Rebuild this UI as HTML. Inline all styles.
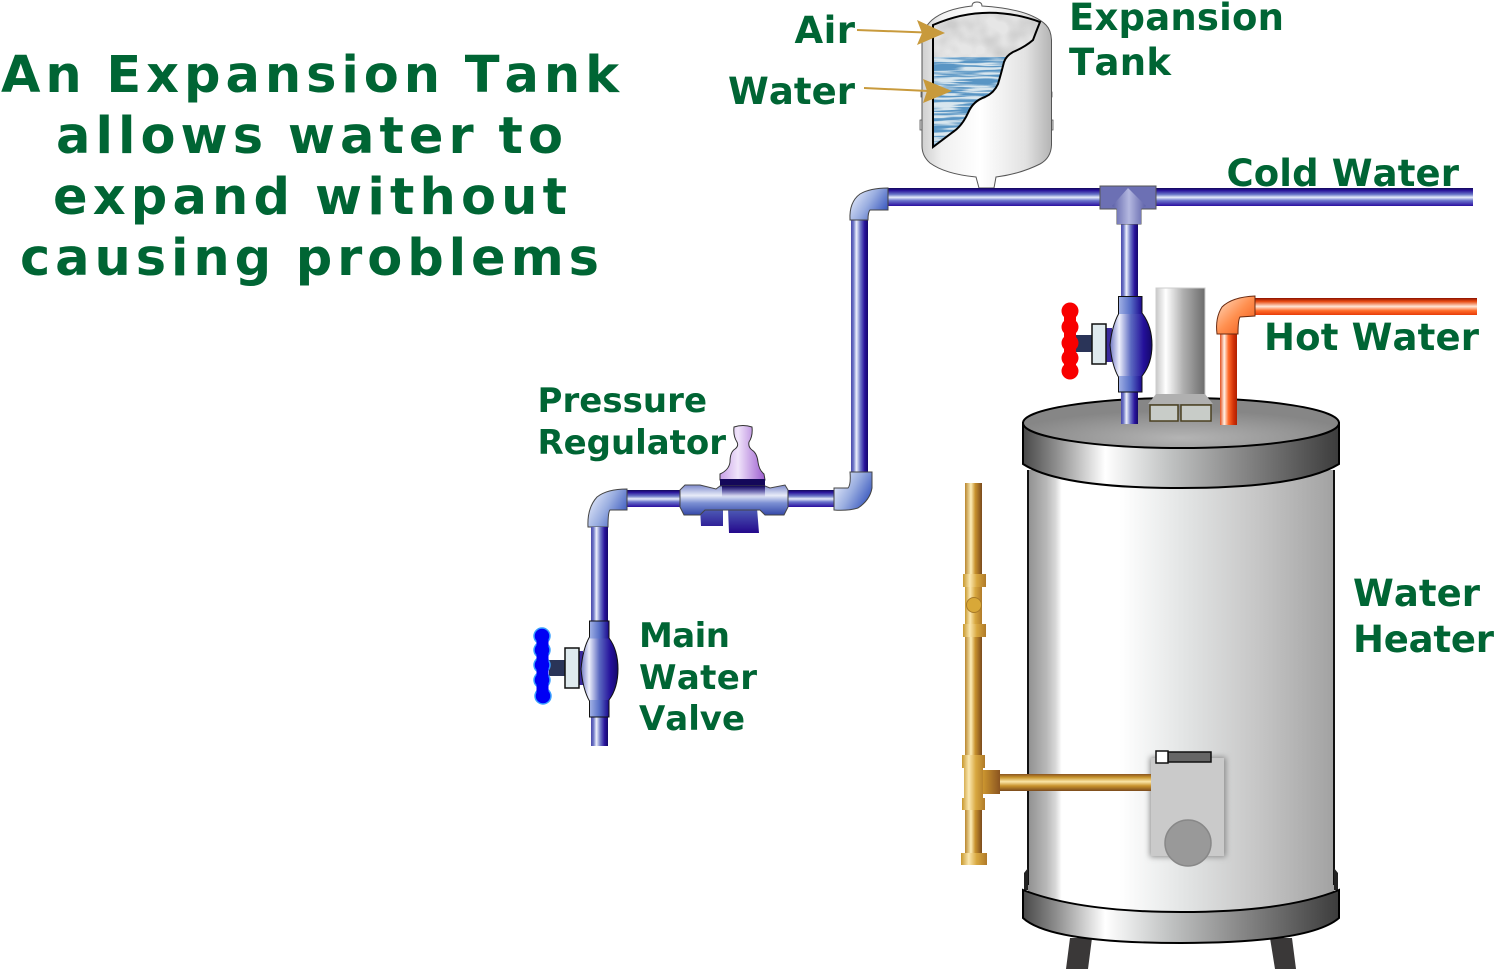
<!DOCTYPE html>
<html><head><meta charset="utf-8"><style>
html,body{margin:0;padding:0;background:#fff}
svg{display:block}
text{font-family:"DejaVu Sans",sans-serif;font-weight:bold;fill:#006534;font-kerning:none}
.t{word-spacing:-3px}
</style></head><body>
<svg width="1494" height="969" viewBox="0 0 1494 969" xmlns="http://www.w3.org/2000/svg">
<defs>
<linearGradient id="bH" x1="0" y1="0" x2="0" y2="1"><stop offset="0" stop-color="#12085a"/><stop offset=".14" stop-color="#2a149c"/><stop offset=".36" stop-color="#6a78c8"/><stop offset=".52" stop-color="#e6ecfa"/><stop offset=".7" stop-color="#6a74cc"/><stop offset="1" stop-color="#2a0ea0"/></linearGradient>
<linearGradient id="bV"><stop offset="0" stop-color="#4a48a8"/><stop offset=".15" stop-color="#6f78c8"/><stop offset=".32" stop-color="#eef2fc"/><stop offset=".55" stop-color="#6f78c8"/><stop offset=".8" stop-color="#2a149c"/><stop offset="1" stop-color="#14086a"/></linearGradient>
<linearGradient id="oH" x1="0" y1="0" x2="0" y2="1"><stop offset="0" stop-color="#8a1000"/><stop offset=".2" stop-color="#e84a10"/><stop offset=".5" stop-color="#ffe8d8"/><stop offset=".75" stop-color="#ff6a28"/><stop offset="1" stop-color="#e83c08"/></linearGradient>
<linearGradient id="oV"><stop offset="0" stop-color="#e05020"/><stop offset=".25" stop-color="#fff0e4"/><stop offset=".5" stop-color="#ff6a28"/><stop offset=".8" stop-color="#d03008"/><stop offset="1" stop-color="#b02000"/></linearGradient>
<linearGradient id="gV"><stop offset="0" stop-color="#b8862e"/><stop offset=".35" stop-color="#fdeeb8"/><stop offset=".6" stop-color="#c8922e"/><stop offset="1" stop-color="#7a4a1c"/></linearGradient>
<linearGradient id="gH" x1="0" y1="0" x2="0" y2="1"><stop offset="0" stop-color="#8a5420"/><stop offset=".2" stop-color="#c8962e"/><stop offset=".45" stop-color="#fbe6a8"/><stop offset=".7" stop-color="#c8922e"/><stop offset="1" stop-color="#7a4a1c"/></linearGradient>
<linearGradient id="gT"><stop offset="0" stop-color="#c8982e"/><stop offset=".3" stop-color="#fbe8b0"/><stop offset=".6" stop-color="#d8a840"/><stop offset="1" stop-color="#b07a28"/></linearGradient>
<linearGradient id="gS"><stop offset="0" stop-color="#d09a30"/><stop offset="1" stop-color="#8a5420"/></linearGradient>
<linearGradient id="body"><stop offset="0" stop-color="#909090"/><stop offset=".06" stop-color="#b8b8b8"/><stop offset=".09" stop-color="#d8d8d8"/><stop offset=".11" stop-color="#fff"/><stop offset=".3" stop-color="#fff"/><stop offset=".5" stop-color="#e4e6e6"/><stop offset=".75" stop-color="#c6c6c6"/><stop offset="1" stop-color="#a2a2a2"/></linearGradient>
<linearGradient id="band"><stop offset="0" stop-color="#484848"/><stop offset=".1" stop-color="#8a8a8a"/><stop offset=".26" stop-color="#fff"/><stop offset=".45" stop-color="#c4c6c6"/><stop offset=".68" stop-color="#8a8a8a"/><stop offset="1" stop-color="#3c3c3c"/></linearGradient>
<radialGradient id="lid" cx=".5" cy=".8" r=".55"><stop offset="0" stop-color="#b4b4b4"/><stop offset="1" stop-color="#868686"/></radialGradient>
<linearGradient id="flue"><stop offset="0" stop-color="#c8c8c8"/><stop offset=".2" stop-color="#fff"/><stop offset=".55" stop-color="#b0b0b0"/><stop offset="1" stop-color="#6c6c6c"/></linearGradient>
<linearGradient id="tank"><stop offset="0" stop-color="#cfcfcf"/><stop offset=".15" stop-color="#f0f0f0"/><stop offset=".45" stop-color="#fff"/><stop offset=".8" stop-color="#e2e2e2"/><stop offset="1" stop-color="#b4b4b4"/></linearGradient>
<linearGradient id="valve"><stop offset="0" stop-color="#7078c4"/><stop offset=".22" stop-color="#eef0fc"/><stop offset=".5" stop-color="#5a68c0"/><stop offset=".8" stop-color="#24109a"/><stop offset="1" stop-color="#14086a"/></linearGradient>
<linearGradient id="valve2"><stop offset="0" stop-color="#a0b0e4"/><stop offset=".5" stop-color="#5870c8"/><stop offset="1" stop-color="#1e0c90"/></linearGradient>
<linearGradient id="elb" x1=".1" y1=".1" x2="1" y2=".6"><stop offset="0" stop-color="#e4eafa"/><stop offset=".5" stop-color="#9aaee0"/><stop offset="1" stop-color="#3e5cc0"/></linearGradient>
<linearGradient id="elbO" x1="0" y1="0" x2="1" y2="1"><stop offset="0" stop-color="#ffe0c8"/><stop offset=".5" stop-color="#ff9050"/><stop offset="1" stop-color="#f05010"/></linearGradient>
<linearGradient id="teeV"><stop offset="0" stop-color="#5c60a8"/><stop offset=".5" stop-color="#b4b8e0"/><stop offset="1" stop-color="#5c60a8"/></linearGradient>
<linearGradient id="regB" x1="0" y1="0" x2="0" y2="1"><stop offset="0" stop-color="#7c88cc"/><stop offset=".35" stop-color="#e8ecf8"/><stop offset=".6" stop-color="#7c90d4"/><stop offset="1" stop-color="#3448a8"/></linearGradient>
<linearGradient id="regL" x1="0" y1="0" x2="0" y2="1"><stop offset="0" stop-color="#5060b8"/><stop offset="1" stop-color="#24088c"/></linearGradient>
<linearGradient id="regT" x1="0" y1="0" x2="0" y2="1"><stop offset="0" stop-color="#14085a"/><stop offset="1" stop-color="#3a2aa0" stop-opacity="0"/></linearGradient>
<linearGradient id="purp"><stop offset="0" stop-color="#c8a0e8"/><stop offset=".4" stop-color="#f0e4fa"/><stop offset="1" stop-color="#9c5cd0"/></linearGradient>
<filter id="bl" x="-20%" y="-20%" width="140%" height="140%"><feGaussianBlur stdDeviation="3"/></filter>
<filter id="wat" x="0" y="0" width="100%" height="100%"><feTurbulence type="fractalNoise" baseFrequency="0.025 0.4" numOctaves="2" seed="4"/><feColorMatrix values="0 0 0 0 0.1  0 0 0 0 0.3  0 0 0 0 0.55  5 0 0 0 -1.9"/></filter>
<filter id="air" x="0" y="0" width="100%" height="100%"><feTurbulence type="fractalNoise" baseFrequency="0.05" numOctaves="2" seed="7"/><feColorMatrix values="0 0 0 0 0.5  0 0 0 0 0.5  0 0 0 0 0.5  2.6 0 0 0 -0.95"/></filter>
<clipPath id="cut"><path d="M933 25Q985 2 1040 22Q1036 32 1033 40Q1025 47 1013 52Q1006 56 1004 62Q1001 74 998 84Q994 93 985 97Q973 101 968 113Q962 126 953 132L933 147Z"/></clipPath>
</defs>

<!-- Title -->
<text class="t" x="1" y="92" font-size="51" textLength="618" lengthAdjust="spacing">An Expansion Tank</text>
<text class="t" x="56" y="153" font-size="51" textLength="507" lengthAdjust="spacing">allows water to</text>
<text class="t" x="53" y="214" font-size="51" textLength="514" lengthAdjust="spacing">expand without</text>
<text class="t" x="20" y="275" font-size="51" textLength="579" lengthAdjust="spacing">causing problems</text>

<!-- Expansion tank -->
<path d="M921 92h3v5h-3ZM920 120h4v10h-4ZM1049 92h3v5h-3ZM1049 120h4v10h-4Z" fill="#ddd" stroke="#555" stroke-width=".8"/>
<path d="M972 6Q972 2 977 2Q982 2 982 6Q1030 9 1046 25Q1051 30 1051.500 40L1051.500 145Q1051 158 1040 164Q1020 174 996 177L994 188L979 188L976 177Q945 174 930 163Q922 156 922 146L922 40Q923 28 932 20Q945 9 972 6Z" fill="url(#tank)" stroke="#555" stroke-width="1"/>
<g clip-path="url(#cut)">
<rect x="930" y="10" width="115" height="48" fill="#e6e6e6"/>
<rect x="930" y="10" width="115" height="48" filter="url(#air)" opacity=".6"/>
<rect x="930" y="57" width="80" height="92" fill="#d8e6ee"/>
<rect x="930" y="57" width="80" height="92" filter="url(#wat)"/>
</g>
<path d="M933 25Q985 2 1040 22Q1036 32 1033 40Q1025 47 1013 52Q1006 56 1004 62Q1001 74 998 84Q994 93 985 97Q973 101 968 113Q962 126 953 132L933 147Z" fill="none" stroke="#000" stroke-width="2"/>
<path d="M857 30L925 32.500" stroke="#c89a3c" stroke-width="2"/>
<path d="M917 20L945 33L917 45L922 33Z" fill="#c89a3c"/>
<path d="M864 88L928 91" stroke="#c89a3c" stroke-width="2"/>
<path d="M923 79L952 91L923 103L927 91Z" fill="#c89a3c"/>

<!-- Cold line -->
<rect x="888" y="188" width="585" height="18" fill="url(#bH)"/>
<rect x="1121" y="222" width="17" height="202" fill="url(#bV)"/>
<path d="M1100 186L1156 186L1156 209L1141 209L1141 224L1117 224L1117 209L1100 209Z" fill="#6c70b4" stroke="#555" stroke-width="1"/>
<path d="M1128 188L1112 206L1117 209L1117 224L1141 224L1141 209L1146 206Z" fill="url(#teeV)"/>

<!-- Elbow top -->
<rect x="851" y="220" width="17" height="252" fill="url(#bV)"/>
<path d="M888 188L888 210L870 210Q868 212 868 220L850 220Q849 202 860 194Q870 188 888 188Z" fill="url(#elb)" stroke="#444" stroke-width="1"/>

<!-- Elbow bottom right -->
<rect x="787" y="490" width="47" height="17" fill="url(#bH)"/>
<path d="M850 472L872 472L872 488Q870 500 858 508Q848 511 834 510L834 488L848 488Q851 485 850 472Z" fill="url(#elb)" stroke="#444" stroke-width="1"/>

<!-- Regulator -->
<rect x="627" y="490" width="54" height="17" fill="url(#bH)"/>
<path d="M734 427Q743 424 752 427Q753 436 749 442Q748 447 752 450Q757 453 758 462Q759 470 764 474L765 480L720 480L720 474Q729 470 730 462Q730 452 735 449Q739 446 737 442Q733 436 734 427Z" fill="url(#purp)" stroke="#333" stroke-width="1"/>
<rect x="720" y="479" width="45" height="7" fill="#14085a"/>
<path d="M700 508L701 526L723 526L723 508ZM728 508L729 533L759 533L757 508Z" fill="url(#regL)"/>
<path d="M680 490L685 485L700 485L716 489L720 486L765 486L770 488L785 485L788 490L788 507L784 515L765 515L760 510L705 510L700 515L684 515L680 507Z" fill="url(#regB)" stroke="#444" stroke-width="1"/>
<path d="M722 486L765 486L765 497L722 497Z" fill="url(#regT)"/>

<!-- Elbow left -->
<path d="M627 489L627 510L610 510Q608 512 608 527L588 527Q587 508 597 497Q607 489 627 489Z" fill="url(#elb)" stroke="#444" stroke-width="1"/>
<rect x="591" y="527" width="17" height="219" fill="url(#bV)"/>

<!-- Main valve -->
<rect x="549" y="660" width="18" height="16" fill="#2a3458"/>
<g fill="#0000f4" stroke="#3aa0ff" stroke-width="1.500"><circle cx="542" cy="636" r="8"/><circle cx="542" cy="650" r="8"/><circle cx="542" cy="665" r="8"/><circle cx="542" cy="680" r="8"/><circle cx="543" cy="696" r="8"/></g>
<rect x="536.500" y="634" width="12" height="64" fill="#0000f4"/>
<rect x="575" y="651" width="8" height="34" fill="#3a2a9c"/>
<path d="M589.500 621L609 621L609 638Q618 650 618 669Q618 688 609 700L609 717L589.500 717L589.500 701Q583 690 581 669Q583 648 589.500 637Z" fill="url(#valve)" stroke="#111" stroke-width="1"/>
<rect x="590" y="621.500" width="18.500" height="17" fill="url(#valve2)"/>
<rect x="590" y="700" width="18.500" height="16.500" fill="url(#valve2)"/>
<rect x="565" y="648" width="14" height="40" fill="#dfeaee" stroke="#111" stroke-width="1.500"/>

<!-- Hot pipes -->
<rect x="1255" y="298" width="222" height="17" fill="url(#oH)"/>
<rect x="1220" y="334" width="17" height="91" fill="url(#oV)"/>
<path d="M1255 296L1255 316L1240 317Q1238 320 1238 334L1217 334Q1215 318 1222 307Q1232 297 1255 296Z" fill="url(#elbO)" stroke="#6a2a10" stroke-width="1"/>

<!-- Heater -->
<path d="M1028 470L1334 470L1334 912L1028 912Z" fill="url(#body)"/>
<path d="M1028 470L1028 885M1334 470L1334 885" stroke="#111" stroke-width="2" fill="none"/>
<path d="M1023 423L1023 464Q1060 488 1181 488Q1300 488 1339 464L1339 423Z" fill="url(#band)" stroke="#000" stroke-width="2"/>
<ellipse cx="1181" cy="423" rx="158" ry="25" fill="url(#lid)" stroke="#000" stroke-width="2"/>

<!-- Re-draw pipes over lid -->
<rect x="1121" y="392" width="17" height="32" fill="url(#bV)"/>
<rect x="1220" y="395" width="17" height="30" fill="url(#oV)"/>

<!-- Cold valve -->
<rect x="1076" y="335" width="18" height="17" fill="#2a3458"/>
<g fill="#f80000"><circle cx="1070" cy="311" r="8.500"/><circle cx="1070" cy="327" r="8.500"/><circle cx="1070" cy="343" r="8.500"/><circle cx="1070" cy="358" r="8.500"/><circle cx="1070" cy="371" r="8.500"/></g>
<rect x="1064" y="311" width="12" height="60" fill="#f80000"/>
<rect x="1104" y="328" width="8" height="34" fill="#3a2a9c"/>
<path d="M1118.500 296.500L1142 296.500L1142 313Q1152 326 1152 345Q1152 364 1142 376L1142 392L1118.500 392L1118.500 377Q1112 366 1110 345Q1112 326 1118.500 314Z" fill="url(#valve)" stroke="#111" stroke-width="1"/>
<rect x="1119" y="297" width="22.500" height="17" fill="url(#valve2)"/>
<rect x="1119" y="376" width="22.500" height="15.500" fill="url(#valve2)"/>
<rect x="1092" y="324" width="14" height="40" fill="#dfeaee" stroke="#111" stroke-width="1.500"/>

<!-- Flue -->
<rect x="1156" y="288" width="49" height="108" fill="url(#flue)" stroke="#ccc" stroke-width="1"/>
<path d="M1156 394L1205 394L1213 404L1148 404Z" fill="#b0b0b0"/>
<path d="M1150 405H1178V421H1150ZM1181 405H1211V421H1181Z" fill="#c8ccc8" stroke="#4a4020" stroke-width="1.500"/>

<!-- Lower band and feet -->
<path d="M1070 938L1092 938L1088 969L1066 969ZM1270 938L1292 938L1296 969L1275 969Z" fill="#3a3838"/>
<path d="M1024 873L1028 868L1028 890L1024 890ZM1338 873L1334 868L1334 890L1338 890Z" fill="#222"/>
<path d="M1023 890Q1080 912 1181 912Q1285 912 1339 890L1339 918Q1310 943 1181 943Q1050 943 1023 918Z" fill="url(#band)" stroke="#000" stroke-width="2"/>

<!-- Gas control -->
<rect x="1150" y="757" width="76" height="100" fill="#8c8c8c" filter="url(#bl)"/>
<rect x="1151" y="758" width="73" height="98" fill="#cacaca"/>
<circle cx="1188" cy="843" r="23" fill="#999" stroke="#888" stroke-width="1.500"/>
<rect x="1168" y="752" width="43" height="10" fill="#666" stroke="#111" stroke-width="1.500"/>
<rect x="1156" y="751" width="12" height="12" fill="#fff" stroke="#111" stroke-width="1.500"/>

<!-- Gas pipe -->
<rect x="965" y="483" width="17" height="372" fill="url(#gV)"/>
<rect x="1000" y="774" width="151" height="17" fill="url(#gH)"/>
<rect x="961" y="853" width="26" height="12" fill="url(#gT)"/>
<path d="M965 574H982V636H965Z" fill="url(#gT)"/>
<rect x="963" y="574" width="23" height="13" fill="url(#gT)"/>
<rect x="963" y="624" width="23" height="13" fill="url(#gT)"/>
<circle cx="974" cy="605" r="7.500" fill="#d8a838" stroke="#a87a28" stroke-width="1"/>
<rect x="982" y="770" width="18" height="24" fill="url(#gS)"/>
<path d="M962 755H985V768H983V798H985V810H962V798H964V768H962Z" fill="url(#gT)"/>

<!-- Labels -->
<g font-size="37">
<text x="794.500" y="43" textLength="60.500" lengthAdjust="spacing">Air</text>
<text x="728" y="104" textLength="127" lengthAdjust="spacing">Water</text>
<text x="1069" y="30" textLength="215" lengthAdjust="spacing">Expansion</text>
<text x="1069" y="75" textLength="102" lengthAdjust="spacing">Tank</text>
<text x="1226.500" y="186" textLength="232.500" lengthAdjust="spacing">Cold Water</text>
<text x="1264" y="350" textLength="215" lengthAdjust="spacing">Hot Water</text>
<text x="1353" y="606" textLength="127" lengthAdjust="spacing">Water</text>
<text x="1353" y="652" textLength="141" lengthAdjust="spacing">Heater</text>
</g>
<g font-size="34">
<text x="537.500" y="412" textLength="169.500" lengthAdjust="spacing">Pressure</text>
<text x="537.500" y="454" textLength="188.500" lengthAdjust="spacing">Regulator</text>
<text x="639" y="647" textLength="91" lengthAdjust="spacing">Main</text>
<text x="639" y="689" textLength="118" lengthAdjust="spacing">Water</text>
<text x="639" y="730" textLength="106" lengthAdjust="spacing">Valve</text>
</g>
</svg>
</body></html>
